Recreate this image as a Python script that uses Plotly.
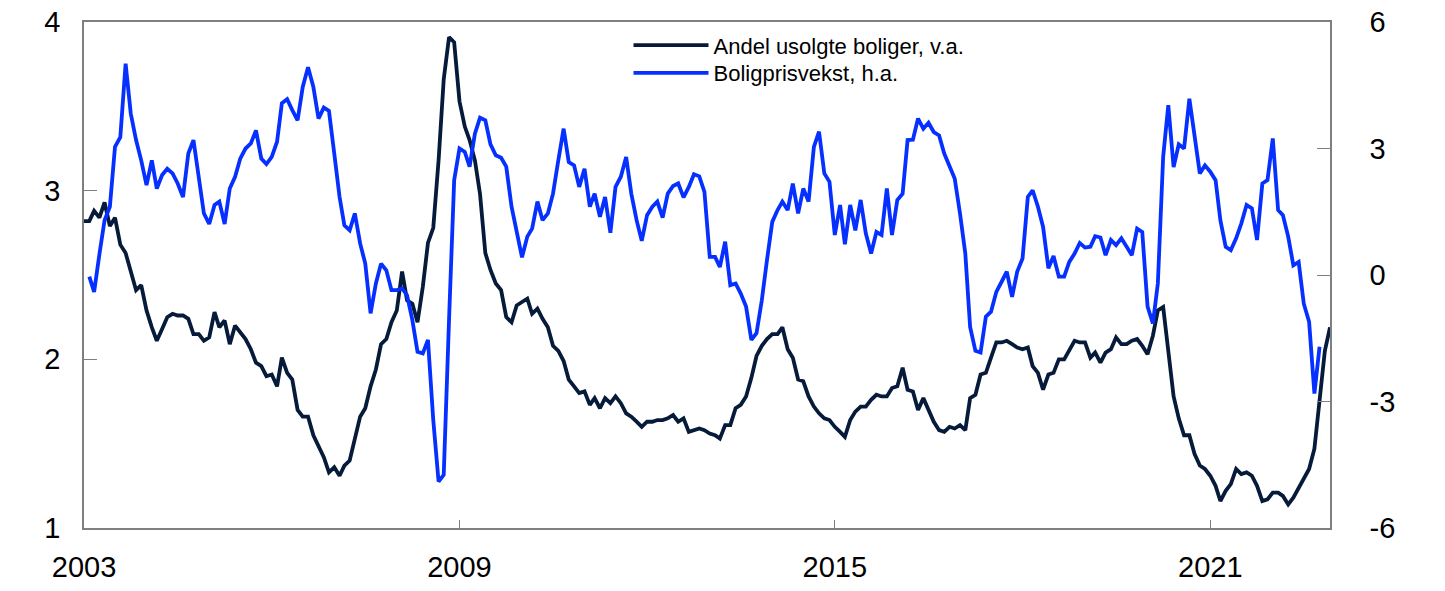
"""
=========================================================
HOUSING CHART: UNSOLD SHARE VS HOUSE PRICE GROWTH
=========================================================
"""

import pandas as pd
import plotly.graph_objects as go

"""
=========================================================
DATA
=========================================================
"""

START_MONTH = "2003-01-01"

# Andel usolgte boliger (left axis), monthly from Jan 2003
unsold_share = [
    2.82, 2.82, 2.88, 2.84, 2.93, 2.79, 2.84, 2.68, 2.63, 2.53, 2.41, 2.44,
    2.29, 2.19, 2.11, 2.18, 2.25, 2.27, 2.26, 2.26, 2.24, 2.15, 2.15, 2.11,
    2.13, 2.28, 2.19, 2.23, 2.09, 2.20, 2.16, 2.12, 2.06, 1.98, 1.96, 1.90,
    1.91, 1.84, 2.01, 1.92, 1.88, 1.70, 1.66, 1.66, 1.55, 1.48, 1.42, 1.33,
    1.36, 1.31, 1.37, 1.40, 1.54, 1.66, 1.71, 1.84, 1.94, 2.09, 2.12, 2.22,
    2.29, 2.52, 2.35, 2.33, 2.22, 2.43, 2.69, 2.78, 3.18, 3.66, 3.91, 3.88,
    3.53, 3.38, 3.30, 3.18, 2.98, 2.63, 2.53, 2.45, 2.41, 2.25, 2.22, 2.32,
    2.34, 2.36, 2.27, 2.30, 2.24, 2.19, 2.08, 2.05, 1.99, 1.88, 1.84, 1.80,
    1.81, 1.73, 1.77, 1.71, 1.77, 1.74, 1.78, 1.74, 1.68, 1.66, 1.63, 1.60,
    1.63, 1.63, 1.64, 1.64, 1.65, 1.67, 1.63, 1.65, 1.57, 1.58, 1.59, 1.58,
    1.56, 1.55, 1.53, 1.61, 1.61, 1.71, 1.73, 1.78, 1.89, 2.02, 2.08, 2.12,
    2.15, 2.15, 2.19, 2.06, 2.01, 1.88, 1.87, 1.78, 1.72, 1.68, 1.65, 1.64,
    1.60, 1.57, 1.54, 1.64, 1.69, 1.72, 1.72, 1.76, 1.79, 1.78, 1.78, 1.83,
    1.84, 1.95, 1.82, 1.81, 1.70, 1.77, 1.70, 1.63, 1.58, 1.57, 1.60, 1.59,
    1.61, 1.58, 1.77, 1.79, 1.91, 1.92, 2.01, 2.10, 2.10, 2.11, 2.09, 2.07,
    2.06, 2.07, 1.96, 1.92, 1.82, 1.91, 1.92, 2.00, 2.00, 2.06, 2.11, 2.10,
    2.10, 2.01, 2.04, 1.98, 2.04, 2.06, 2.13, 2.09, 2.09, 2.11, 2.12, 2.08,
    2.03, 2.14, 2.29, 2.31, 2.07, 1.78, 1.65, 1.55, 1.55, 1.44, 1.37, 1.35,
    1.31, 1.25, 1.16, 1.22, 1.26, 1.35, 1.32, 1.33, 1.31, 1.25, 1.16, 1.17,
    1.21, 1.21, 1.19, 1.14, 1.18, 1.24, 1.29, 1.35, 1.47, 1.75, 2.05, 2.19,
]

# Boligprisvekst (right axis), same months; no value first month / last two
price_growth = [
    None, -0.04, -0.40, 0.49, 1.30, 1.62, 3.04, 3.27, 5.01, 3.83, 3.20, 2.72,
    2.13, 2.72, 2.05, 2.37, 2.52, 2.41, 2.17, 1.85, 2.88, 3.20, 2.33, 1.46,
    1.21, 1.66, 1.74, 1.21, 2.05, 2.33, 2.76, 3.00, 3.12, 3.43, 2.76, 2.63,
    2.80, 3.16, 4.07, 4.17, 3.91, 3.67, 4.46, 4.93, 4.46, 3.71, 3.97, 3.89,
    2.88, 1.85, 1.18, 1.06, 1.46, 0.75, 0.27, -0.91, -0.20, 0.27, 0.11, -0.36,
    -0.36, -0.32, -0.48, -1.07, -1.82, -1.86, -1.54, -3.44, -4.90, -4.74, -1.07, 2.25,
    3.00, 2.92, 2.57, 3.35, 3.73, 3.67, 3.10, 2.84, 2.78, 2.57, 1.62, 1.06,
    0.42, 0.91, 1.10, 1.74, 1.30, 1.46, 1.93, 2.72, 3.47, 2.68, 2.60, 2.09,
    2.52, 1.62, 1.93, 1.38, 1.85, 1.00, 2.09, 2.33, 2.80, 1.93, 1.30, 0.81,
    1.42, 1.62, 1.74, 1.36, 1.93, 2.11, 2.17, 1.84, 2.09, 2.39, 2.34, 1.97,
    0.43, 0.43, 0.19, 0.79, -0.24, -0.20, -0.44, -0.75, -1.54, -1.38, -0.60, 0.35,
    1.26, 1.54, 1.74, 1.54, 2.17, 1.46, 2.05, 1.74, 3.04, 3.40, 2.41, 2.21,
    0.95, 1.66, 0.73, 1.66, 1.06, 1.78, 0.99, 0.51, 1.02, 0.95, 2.05, 0.95,
    1.78, 1.93, 3.20, 3.21, 3.71, 3.47, 3.61, 3.39, 3.31, 2.88, 2.56, 2.29,
    1.46, 0.51, -1.23, -1.80, -1.84, -0.99, -0.87, -0.40, -0.16, 0.08, -0.52, 0.08,
    0.39, 1.85, 2.01, 1.62, 1.14, 0.16, 0.45, -0.04, -0.04, 0.31, 0.51, 0.76,
    0.65, 0.67, 0.92, 0.89, 0.47, 0.83, 0.71, 0.87, 0.67, 0.47, 1.10, 1.02,
    -0.75, -1.15, -0.20, 2.80, 4.03, 2.56, 3.10, 3.00, 4.18, 3.27, 2.41, 2.60,
    2.45, 2.25, 1.30, 0.67, 0.59, 0.87, 1.22, 1.66, 1.58, 0.83, 2.17, 2.25,
    3.24, 1.54, 1.42, 0.91, 0.23, 0.31, -0.68, -1.11, -2.81, -1.70, None, None,
]

months = pd.date_range(START_MONTH, periods=len(unsold_share), freq="MS")

x_tick_years = ["2003", "2009", "2015", "2021"]
left_ticks = [1, 2, 3, 4]
right_ticks = [-6, -3, 0, 3, 6]

"""
=========================================================
FIGURE
=========================================================
"""

FONT = "Arial, Liberation Sans, sans-serif"
AXIS_GREY = "#7f7f7f"


def legend_box(y):

    return dict(

        x=0.437,

        y=y,

        xanchor="left",

        yanchor="middle",

        bgcolor="rgba(0,0,0,0)",

        font=dict(size=22),

        itemwidth=75

    )


fig = go.Figure()

fig.add_trace(

    go.Scatter(

        x=months,

        y=unsold_share,

        name="Andel usolgte boliger, v.a.",

        mode="lines",

        legend="legend",

        line=dict(color="#061a3a", width=3.8)

    )

)

fig.add_trace(

    go.Scatter(

        x=months,

        y=price_growth,

        name="Boligprisvekst, h.a.",

        yaxis="y2",

        mode="lines",

        legend="legend2",

        line=dict(color="#0530ff", width=3.8)

    )

)

fig.update_layout(

    width=1445,

    height=591,

    margin=dict(l=84, r=115, t=22, b=63),

    paper_bgcolor="white",

    plot_bgcolor="white",

    font=dict(family=FONT, size=29, color="black"),

    showlegend=True,

    legend=legend_box(0.954),

    legend2=legend_box(0.899),

    xaxis=dict(

        type="date",

        range=[months[0], months[-1]],

        tickvals=[f"{y}-01-01" for y in x_tick_years],

        ticktext=x_tick_years,

        ticks="inside",

        ticklen=8,

        tickcolor=AXIS_GREY,

        ticklabelstandoff=12,

        showline=True,

        linecolor=AXIS_GREY,

        linewidth=1.5,

        mirror=True,

        showgrid=False,

        zeroline=False,

        automargin=False

    ),

    yaxis=dict(

        range=[1, 4],

        tickvals=left_ticks,

        ticks="inside",

        ticklen=13,

        tickcolor=AXIS_GREY,

        ticklabelstandoff=16,

        showline=True,

        linecolor=AXIS_GREY,

        linewidth=1.5,

        showgrid=False,

        zeroline=False,

        automargin=False

    ),

    yaxis2=dict(

        range=[-6, 6],

        tickvals=right_ticks,

        ticktext=[str(t) for t in right_ticks],

        overlaying="y",

        side="right",

        ticks="inside",

        ticklen=13,

        tickcolor=AXIS_GREY,

        ticklabelstandoff=32,

        showline=True,

        linecolor=AXIS_GREY,

        linewidth=1.5,

        showgrid=False,

        zeroline=False,

        automargin=False

    )

)

# drop the default 8px page margin so the figure sits at the window corner
fig.write_html(

    "out.html",

    config={"displayModeBar": False},

    post_script="document.body.style.margin = '0';"

)
